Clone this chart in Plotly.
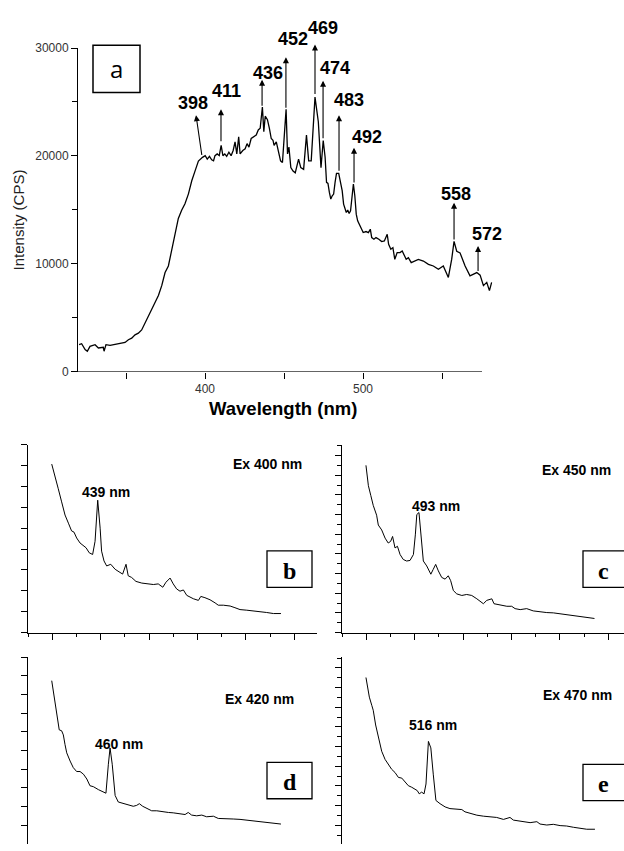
import plotly.graph_objects as go

W, H = 624, 851

# ---------------- data: panel a ----------------
main_wl = [320.3, 321.9, 324.1, 325.5, 327.2, 330.4, 332.5, 335.6, 336.1, 337.3, 339.9, 342.0, 344.1, 346.2,
           349.4, 351.5, 353.6, 355.7, 357.8, 359.9, 362.0, 364.1, 366.2, 368.4, 370.5, 372.6, 374.7, 376.8,
           378.9, 381.0, 383.1, 385.2, 387.3, 389.5, 391.6, 393.7, 395.8,
           398.4, 400.1, 401.4, 402.8, 404.2, 405.4, 406.3, 407.7, 409.0, 410.2, 411.3, 412.5, 413.7, 415.1,
           416.5, 417.8, 419.0, 420.1, 421.3, 422.2, 423.9, 425.4, 426.6, 427.8, 429.2, 431.0, 432.4, 433.7,
           434.9, 436.3, 437.2, 438.1, 439.5, 440.7, 441.9, 443.0, 443.7, 445.1, 446.5, 447.8, 449.0, 451.3,
           452.2, 453.1, 454.3, 455.7, 457.1, 458.3, 459.2, 460.6, 462.4, 464.2, 465.6, 467.2, 468.3, 469.6,
           471.7, 473.4, 474.8,
           476.0, 476.9, 477.8, 478.7, 479.6, 480.5, 481.4, 482.3, 483.2, 484.6, 485.9, 486.8, 487.7, 488.5,
           489.4, 490.3, 491.2, 492.1, 493.0, 493.9, 494.8, 495.7, 496.6, 497.5, 498.4, 499.3, 500.1, 501.9,
           503.4, 504.6, 505.5, 506.9, 508.2, 510.0, 511.8, 513.5, 515.3, 516.2, 517.6, 518.9, 520.1, 521.6,
           523.4, 524.8, 526.0, 527.3, 528.7, 530.5,
           535.0, 538.2, 541.4, 544.5, 547.7, 550.8, 554.0, 556.1, 557.6, 559.3, 561.4, 564.6, 567.7, 569.8,
           572.0, 574.1, 576.2, 578.3, 580.0, 581.4]
main_int = [2521, 2612, 2065, 1913, 2369, 2521, 2217, 2278, 1913, 2521, 2460, 2521, 2581, 2673,
            2733, 2976, 3128, 3432, 3584, 3887, 4495, 5102, 5861, 6469, 7076, 7987, 9202, 9810,
            11328, 12543, 14213, 14972, 15580, 16491, 17706, 18617, 19528,
            19872, 20030, 19713, 19967, 19650, 19554, 20030, 20189, 20030, 20983, 20030, 20189, 19967, 20348,
            20030, 20507, 21301, 20189, 21777, 20189, 20507, 20666, 21142, 20824, 21618, 21777, 21935, 22412,
            22570, 24539, 22253, 23682, 23364, 22570, 21618, 21459, 20983, 21301, 20507, 19554, 19396, 24317,
            20189, 20824, 18919, 18602, 18443, 19237, 19713, 18919, 18760, 21935, 19550, 19554, 22261, 25450,
            23172, 18921, 21432,
            19882, 17557, 17464, 16627, 16007, 16317, 16472, 17557, 18394, 18394, 17557, 16782, 15542, 15232,
            14767, 14984, 14674, 14922, 16162, 17402, 16317, 14612, 13992, 13682, 13527, 13062, 12907, 13000,
            12907, 13217, 12442, 12287, 12442, 12287, 12070, 12132, 12752, 11822, 11357, 11512, 10427, 11047,
            11047, 11202, 10892, 10427, 10582, 10117,
            10417, 10265, 9961, 9810, 9506, 9810, 8747, 10417, 12087, 11176, 11024, 9810, 8898, 9050,
            9202, 8959, 7987, 8291, 7532, 8291]

peak_labels = ["398", "411", "436", "452", "469", "474", "483", "492", "558", "572"]
label_x = [392.4, 413.9, 439.9, 455.7, 474.7, 482.3, 491.1, 502.5, 558.8, 578.5]
label_y = [24870, 26054, 27694, 30791, 31885, 28150, 25144, 21773, 16489, 12754]
arrow_head_x = [394.3, 410.1, 436.1, 451.2, 469.6, 474.7, 484.8, 494.3, 557.6, 572.8]
arrow_head_y = [23777, 24324, 27056, 29152, 30336, 26966, 23777, 20771, 15669, 11661]
arrow_tail_x = [398.1, 410.1, 436.1, 451.2, 469.6, 474.7, 484.8, 494.3, 557.6, 572.8]
arrow_tail_y = [19951, 21226, 24506, 24326, 25599, 21499, 18493, 17400, 12116, 9201]

# ---------------- data: panels b-e ----------------
b_wl = [420.0, 421.4, 422.7, 424.1, 425.5, 426.9, 428.2, 429.2, 430.3, 431.7, 433.1, 434.2, 435.5, 436.9,
        437.9, 439.0, 440.0, 440.6, 441.6, 442.7, 444.4, 446.2, 448.2, 449.3, 450.7, 451.6, 453.0, 454.8,
        457.2, 459.2, 462.0, 464.0, 465.9, 467.2, 468.9, 470.2, 471.6, 473.0, 474.4, 475.8, 478.5, 480.6,
        481.6, 483.3, 485.4, 487.5, 488.8, 490.9, 493.7, 495.7, 497.8, 500.6, 503.3, 506.1, 508.8, 511.6, 514.7]
b_int = [8.07, 7.51, 6.89, 6.26, 5.63, 5.24, 4.87, 4.81, 4.53, 4.29, 4.18, 4.06, 3.82, 3.74,
         4.37, 6.34, 5.00, 3.90, 3.43, 3.19, 3.27, 3.03, 2.88, 2.80, 3.27, 2.72, 2.64, 2.45,
         2.37, 2.33, 2.30, 2.33, 2.17, 2.41, 2.61, 2.33, 2.09, 1.98, 2.04, 1.78, 1.62, 1.54,
         1.73, 1.67, 1.57, 1.42, 1.31, 1.31, 1.27, 1.19, 1.10, 1.07, 1.04, 0.99, 0.96, 0.91, 0.91]

c_wl = [471.4, 472.4, 473.4, 474.4, 475.8, 476.5, 477.9, 479.3, 480.6, 481.6, 482.4, 483.4, 484.4, 485.5,
        486.8, 488.2, 489.6, 491.0, 491.8, 492.4, 493.3, 494.1, 495.1, 496.5, 498.2, 499.2, 500.2, 501.3,
        502.7, 504.1, 505.4, 506.4, 507.5, 508.9, 511.0, 513.0, 515.1, 517.2, 518.8, 519.9, 521.3, 523.4,
        524.3, 526.8, 529.6, 531.6, 533.0, 535.1, 537.8, 540.5, 543.3, 546.1, 548.8, 552.9, 557.1, 559.8,
        562.6, 565.8]
c_int = [17.0, 14.93, 13.93, 12.93, 11.93, 10.93, 10.43, 9.6, 9.1, 9.27, 9.77, 8.6, 8.77, 7.93,
         7.43, 7.27, 7.33, 7.93, 9.93, 12.0, 12.2, 9.93, 7.27, 6.77, 5.93, 6.43, 6.93, 6.27,
         5.6, 5.43, 5.77, 5.27, 4.27, 3.93, 3.77, 3.87, 3.77, 3.43, 3.1, 2.93, 3.27, 3.43,
         2.93, 2.77, 2.67, 2.67, 2.43, 2.33, 2.43, 2.2, 2.1, 2.03, 2.0, 1.87, 1.73, 1.6,
         1.53, 1.43]

d_wl = [435.9, 436.8, 438.0, 439.0, 440.0, 440.7, 441.4, 442.1, 443.5, 444.8, 446.2, 447.6, 449.0, 450.4,
        451.7, 453.1, 455.2, 457.2, 458.3, 459.3, 460.0, 460.9, 462.1, 463.4, 465.5, 467.5, 469.6, 471.0,
        472.1, 473.5, 475.1, 477.2, 479.3, 482.0, 484.1, 486.1, 488.9, 491.0, 492.3, 493.7, 495.8, 497.9,
        499.9, 502.7, 504.7, 508.2, 510.9, 513.7, 516.5, 519.2, 522.0, 524.7, 527.5, 530.6]
d_int = [8.79, 8.0, 7.12, 6.16, 6.11, 5.89, 5.37, 4.93, 4.49, 4.14, 3.93, 3.93, 3.79, 3.53,
         3.17, 3.12, 2.96, 2.82, 2.77, 4.32, 5.19, 4.32, 2.65, 2.30, 2.21, 2.12, 2.07, 2.12,
         2.21, 2.07, 1.95, 1.83, 1.83, 1.77, 1.74, 1.72, 1.68, 1.63, 1.74, 1.60, 1.56, 1.60,
         1.51, 1.54, 1.42, 1.42, 1.39, 1.37, 1.33, 1.30, 1.25, 1.21, 1.16, 1.12]

e_wl = [490.2, 490.8, 491.6, 492.6, 493.2, 494.2, 495.3, 496.7, 498.1, 499.4, 500.8, 502.2, 503.6, 505.0,
        506.3, 507.7, 509.1, 510.5, 511.4, 512.2, 513.2, 514.2, 515.0, 516.0, 517.0, 518.0, 519.1, 520.8,
        522.9, 524.9, 527.7, 529.8, 531.1, 533.2, 536.0, 538.7, 541.5, 544.2, 547.0, 549.7, 551.1, 553.2,
        555.2, 558.0, 560.8, 562.1, 564.9, 567.6, 570.4, 573.1, 575.9, 578.6, 581.4, 584.8]
e_int = [17.03, 16.2, 15.03, 14.2, 13.7, 12.2, 10.87, 9.53, 8.7, 8.2, 7.7, 7.37, 6.87, 6.8,
         6.37, 6.03, 5.87, 5.7, 5.53, 5.2, 5.37, 5.2, 6.2, 10.53, 9.87, 7.2, 4.53, 4.2,
         3.87, 3.7, 3.6, 3.6, 3.37, 3.2, 3.03, 2.93, 2.87, 2.8, 2.6, 2.8, 2.53, 2.47,
         2.37, 2.27, 2.37, 2.13, 2.03, 2.1, 1.97, 1.93, 1.8, 1.7, 1.6, 1.6]

panel_titles = ["Ex 400 nm", "Ex 450 nm", "Ex 420 nm", "Ex 470 nm"]
panel_peaks = ["439 nm", "493 nm", "460 nm", "516 nm"]
panel_letters = ["b", "c", "d", "e"]

# ---------------- figure ----------------
def px(x):
    return x / W

def py(y):
    return 1 - y / H

Y_LO, Y_HI = 0, 30000
Y_DOM = [py(371), py(41.7)]

def ydom(v):
    return (v - Y_LO) / (Y_HI - Y_LO)

fig = go.Figure()
line = dict(color="black", width=1.3)
fig.add_trace(go.Scatter(x=main_wl, y=main_int, mode="lines", line=line, xaxis="x", yaxis="y"))
thin = dict(color="black", width=1)
fig.add_trace(go.Scatter(x=b_wl, y=b_int, mode="lines", line=thin, xaxis="x2", yaxis="y2"))
fig.add_trace(go.Scatter(x=c_wl, y=c_int, mode="lines", line=thin, xaxis="x3", yaxis="y3"))
fig.add_trace(go.Scatter(x=d_wl, y=d_int, mode="lines", line=thin, xaxis="x4", yaxis="y4"))
fig.add_trace(go.Scatter(x=e_wl, y=e_int, mode="lines", line=thin, xaxis="x5", yaxis="y5"))

tickfont = dict(family="Arial, Liberation Sans", size=12, color="#333")
X_LO, X_HI, X_AXIS_END = 319.6, 582.0, 575.3
main_x_right = 78 + (X_HI - X_LO) * 1.58

def small_x(domain, lo, hi, visible=True):
    if not visible:
        return dict(domain=domain, range=[lo, hi], showline=False, ticks="", showticklabels=False,
                    showgrid=False, zeroline=False)
    return dict(domain=domain, range=[lo, hi], showline=True, linecolor="black", linewidth=1,
                ticks="outside", ticklen=6, tickcolor="black", tick0=lo + 10, dtick=20,
                minor=dict(ticks="outside", ticklen=3, tickcolor="black", tick0=lo, dtick=10),
                showticklabels=False, showgrid=False, zeroline=False)

def small_y(domain, lo, hi, anchor, minor=False):
    d = dict(domain=domain, range=[lo, hi], showline=True, linecolor="black", linewidth=1,
             ticks="outside", ticklen=6, tickcolor="black", tick0=0, dtick=2 if minor else 1,
             showticklabels=False, showgrid=False, zeroline=False, anchor=anchor)
    if minor:
        d["minor"] = dict(ticks="outside", ticklen=4, tickcolor="black", tick0=0, dtick=1)
    return d

top_dom = [py(636), py(445)]
bot_dom = [0, py(661)]
left_dom = [px(28), px(317)]
right_dom = [px(342), 1]

fig.update_layout(
    width=W, height=H, margin=dict(l=0, r=0, t=0, b=0),
    paper_bgcolor="white", plot_bgcolor="rgba(0,0,0,0)", showlegend=False,
    xaxis=dict(domain=[px(78), px(main_x_right)], range=[X_LO, X_HI], showline=False,
               ticks="outside", ticklen=6, tickcolor="black", tick0=400, dtick=100,
               minor=dict(ticks="outside", ticklen=6, tickcolor="black", tick0=350, dtick=100),
               tickfont=tickfont, showgrid=False, zeroline=False, anchor="y"),
    yaxis=dict(domain=Y_DOM, range=[Y_LO, Y_HI], showline=True, linecolor="black", linewidth=1,
               ticks="outside", ticklen=6, tickcolor="black", tick0=0, dtick=10000,
               minor=dict(ticks="outside", ticklen=5, tickcolor="black", dtick=5000),
               tickformat="d", tickfont=tickfont, showgrid=False, zeroline=False, anchor="x"),
    xaxis2=small_x(left_dom, 410.2, 529.6) | dict(anchor="y2"),
    yaxis2=small_y(top_dom, 0, 9, "x2"),
    xaxis3=small_x(right_dom, 461.5, 578.0) | dict(anchor="y3"),
    yaxis3=small_y(top_dom, 0, 19.1, "x3", minor=True),
    xaxis4=small_x(left_dom, 426.1, 545.5, visible=False) | dict(anchor="y4"),
    yaxis4=small_y(bot_dom, 0.053, 10.05, "x4") | dict(tick0=0.05),
    xaxis5=small_x(right_dom, 480.3, 596.8, visible=False) | dict(anchor="y5"),
    yaxis5=small_y(bot_dom, 0.1, 19.1, "x5", minor=True),
)

shapes = [
    dict(type="line", xref="x", yref="y", x0=X_LO, x1=X_AXIS_END, y0=0, y1=0,
         line=dict(color="black", width=1)),
    dict(type="rect", xref="paper", yref="paper", x0=px(93), x1=px(140), y0=py(87), y1=py(39),
         line=dict(color="black", width=1.5)),
]
annotations = []

for lab, lx, ly, hx, hy, tx, ty in zip(peak_labels, label_x, label_y, arrow_head_x, arrow_head_y,
                                       arrow_tail_x, arrow_tail_y):
    annotations.append(dict(x=lx, y=ydom(ly), xref="x", yref="y domain", text="<b>" + lab + "</b>",
                            showarrow=False,
                            font=dict(family="Arial, Liberation Sans", size=18, color="black"),
                            xanchor="center", yanchor="middle"))
    annotations.append(dict(x=hx, y=ydom(hy), xref="x", yref="y domain", ax=tx, ay=ydom(ty),
                            axref="x", ayref="y domain",
                            text="", showarrow=True, arrowhead=2, arrowsize=1.1, arrowwidth=1.1,
                            arrowcolor="black", standoff=0, startstandoff=0))

annotations += [
    dict(x=px(116.5), y=py(63), xref="paper", yref="paper", text="a", showarrow=False,
         font=dict(family="Open Sans", size=24, color="black"), xanchor="center", yanchor="middle"),
    dict(x=px(18), y=py(217), xref="paper", yref="paper", text="Intensity (CPS)", showarrow=False,
         textangle=-90, font=dict(family="Arial, Liberation Sans", size=15, color="#222"),
         xanchor="center", yanchor="middle"),
    dict(x=px(283), y=py(408), xref="paper", yref="paper", text="<b>Wavelength (nm)</b>", showarrow=False,
         font=dict(family="Arial, Liberation Sans", size=18.5, color="black"),
         xanchor="center", yanchor="middle"),
]

title_pos = [(267, 465), (576, 471), (259, 704), (577, 699)]
peak_pos = [(106, 493), (436, 507), (119, 749), (433, 730)]
box_pos = [(267, 312, 553, 590), (583, 640, 553, 590), (267, 312, 768, 805), (583, 640, 770, 807)]
letter_pos = [(289.5, 573), (603, 573), (289.5, 788), (603, 790)]

small_font = dict(family="Arial, Liberation Sans", size=14, color="black")
for t, p, L, tp, pp, bp, lp in zip(panel_titles, panel_peaks, panel_letters, title_pos, peak_pos,
                                   box_pos, letter_pos):
    annotations.append(dict(x=px(tp[0]), y=py(tp[1]), xref="paper", yref="paper", text="<b>" + t + "</b>",
                            showarrow=False, font=small_font, xanchor="center", yanchor="middle"))
    annotations.append(dict(x=px(pp[0]), y=py(pp[1]), xref="paper", yref="paper", text="<b>" + p + "</b>",
                            showarrow=False, font=small_font, xanchor="center", yanchor="middle"))
    shapes.append(dict(type="rect", xref="paper", yref="paper", x0=px(bp[0]), x1=px(bp[1]),
                       y0=py(bp[3]), y1=py(bp[2]), line=dict(color="black", width=1.3)))
    annotations.append(dict(x=px(lp[0]), y=py(lp[1]), xref="paper", yref="paper", text="<b>" + L + "</b>",
                            showarrow=False, font=dict(family="Liberation Serif, Times New Roman", size=24,
                                                       color="black"),
                            xanchor="center", yanchor="middle"))

fig.update_layout(shapes=shapes, annotations=annotations)
fig.write_html("out.html")
